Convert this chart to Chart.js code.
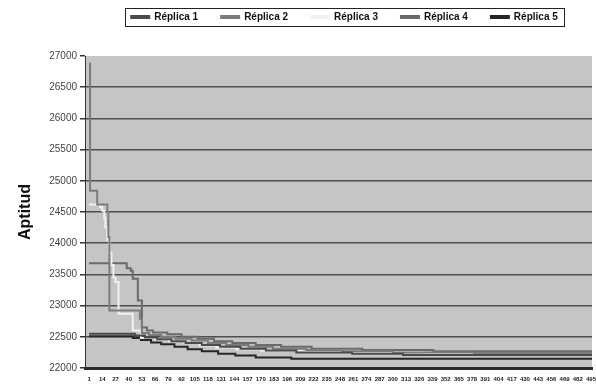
<!DOCTYPE html>
<html>
<head>
<meta charset="utf-8">
<script src="https://cdn.jsdelivr.net/npm/chart.js@4/dist/chart.umd.min.js"></script>
<style>
  html, body { margin: 0; padding: 0; background: #fff; }
  #wrap { width: 596px; height: 385px; position: relative; }
</style>
</head>
<body>
<div id="wrap"><canvas id="chart"></canvas></div>
<script>
// generation where each replica's best fitness changes, and the new value
const rep1Gen = [1, 46, 56, 68, 82, 96, 112, 130, 150, 175, 205, 260, 310]
const rep1Fit = [22550, 22520, 22490, 22460, 22430, 22400, 22370, 22340, 22310, 22280, 22250, 22230, 22210]

const rep2Gen = [1, 2, 9, 19, 20, 21, 51, 53, 60, 72, 86, 102, 118, 136, 158, 182, 215, 250, 300, 380]
const rep2Fit = [26880, 24840, 24620, 24500, 24100, 22920, 22790, 22560, 22530, 22500, 22470, 22440, 22400, 22370, 22340, 22310, 22290, 22270, 22250, 22240]

const rep3Gen = [1, 12, 14, 16, 17, 19, 21, 23, 25, 27, 30, 44, 52, 66, 80, 95, 110, 126, 146, 170, 210, 260, 330]
const rep3Fit = [24620, 24580, 24520, 24400, 24250, 24050, 23850, 23650, 23450, 23380, 22870, 22600, 22480, 22460, 22430, 22400, 22360, 22330, 22300, 22280, 22260, 22250, 22240]

const rep4Gen = [1, 38, 42, 44, 49, 53, 58, 64, 78, 92, 108, 124, 142, 165, 190, 220, 270, 340]
const rep4Fit = [23680, 23600, 23560, 23430, 23080, 22650, 22600, 22570, 22540, 22500, 22470, 22430, 22400, 22370, 22340, 22310, 22290, 22270]

const rep5Gen = [1, 44, 52, 62, 72, 85, 98, 112, 128, 145, 165, 200]
const rep5Fit = [22510, 22480, 22450, 22410, 22380, 22340, 22300, 22270, 22230, 22200, 22170, 22150]

const seriesNames = ['Réplica 1', 'Réplica 2', 'Réplica 3', 'Réplica 4', 'Réplica 5']
const seriesColors = ['#4a4a4a', '#7c7c7c', '#f2f2f2', '#6a6a6a', '#262626']
const lastGen = 496

const xTickLabels = [1, 14, 27, 40, 53, 66, 79, 92, 105, 118, 131, 144, 157, 170, 183, 196, 209, 222, 235, 248, 261, 274, 287, 300, 313, 326, 339, 352, 365, 378, 391, 404, 417, 430, 443, 456, 469, 482, 495]
const yTickLabels = [22000, 22500, 23000, 23500, 24000, 24500, 25000, 25500, 26000, 26500, 27000]

const toPoints = function(gens, fits){
  let pts = []
  for (let i = 0; i < gens.length; i++) {
    pts.push({x: gens[i], y: fits[i]})
  }
  pts.push({x: lastGen, y: fits[fits.length - 1]})
  return pts
}

const allGens = [rep1Gen, rep2Gen, rep3Gen, rep4Gen, rep5Gen]
const allFits = [rep1Fit, rep2Fit, rep3Fit, rep4Fit, rep5Fit]

let datasets = []
for (let i = 0; i < seriesNames.length; i++) {
  datasets.push({
    label: seriesNames[i],
    data: toPoints(allGens[i], allFits[i]),
    borderColor: seriesColors[i],
    backgroundColor: seriesColors[i],
    borderWidth: 2,
    pointRadius: 0,
    stepped: 'before'
  })
}

const plotBackground = {
  id: 'plotBackground',
  beforeDraw(chart) {
    const a = chart.chartArea
    const ctx = chart.ctx
    ctx.save()
    ctx.fillStyle = '#c5c5c5'
    ctx.fillRect(a.left, a.top, a.right - a.left, a.bottom - a.top)
    ctx.restore()
  }
}

// nudge the legend up/right, like the boxed legend of the original
const legendShift = {
  id: 'legendShift',
  afterLayout(chart) {
    const lg = chart.legend
    lg.top -= 24
    lg.bottom -= 24
    lg.left += 6
    lg.right += 6
  }
}

const legendBorder = {
  id: 'legendBorder',
  afterDraw(chart) {
    const boxes = chart.legend.legendHitBoxes
    if (!boxes || !boxes.length) return
    let left = Infinity, right = -Infinity, top = Infinity, bottom = -Infinity
    for (let b of boxes) {
      left = Math.min(left, b.left)
      right = Math.max(right, b.left + b.width)
      top = Math.min(top, b.top)
      bottom = Math.max(bottom, b.top + b.height)
    }
    const ctx = chart.ctx
    ctx.save()
    ctx.strokeStyle = '#222'
    ctx.lineWidth = 1
    ctx.strokeRect(Math.round(left - 6) + 0.5, Math.round(top - 4) + 0.5, Math.round(right - left + 12), Math.round(bottom - top + 8))
    ctx.restore()
  }
}

new Chart(document.getElementById('chart'), {
  type: 'line',
  data: { datasets: datasets },
  plugins: [plotBackground, legendShift, legendBorder],
  options: {
    responsive: true,
    maintainAspectRatio: false,
    animation: false,
    layout: { padding: { top: 13, right: 4, left: 0, bottom: 0 } },
    plugins: {
      legend: {
        position: 'top',
        fullSize: false,
        labels: {
          boxWidth: 18,
          boxHeight: 2,
          padding: 23,
          color: '#111',
          font: { family: 'Liberation Sans, Arial, sans-serif', size: 10, weight: 'bold' }
        }
      },
      tooltip: { enabled: false }
    },
    scales: {
      x: {
        type: 'linear',
        min: -3,
        max: lastGen,
        afterBuildTicks: function(axis) {
          axis.ticks = xTickLabels.map(v => ({ value: v }))
        },
        afterFit: function(axis) { axis.height = 17 },
        grid: { display: false },
        border: { color: '#2a2a2a', width: 3 },
        ticks: {
          autoSkip: false,
          maxRotation: 0,
          padding: 0,
          color: '#222',
          font: { family: 'Liberation Sans, Arial, sans-serif', size: 6, weight: 'bold' },
          callback: v => String(v)
        }
      },
      y: {
        min: 22000,
        max: 27000,
        afterBuildTicks: function(axis) {
          axis.ticks = yTickLabels.map(v => ({ value: v }))
        },
        afterFit: function(axis) { axis.width = 85 },
        grid: {
          color: ctx => (ctx.tick && ctx.tick.value === 27000) ? 'rgba(0,0,0,0)' : '#4f4f4f',
          lineWidth: 1.5,
          tickLength: 5,
          tickColor: '#333'
        },
        border: { color: '#333', width: 1 },
        ticks: {
          padding: 3,
          color: '#444',
          font: { family: 'Liberation Sans, Arial, sans-serif', size: 10 },
          callback: v => String(v)
        },
        title: {
          display: true,
          text: 'Aptitud',
          color: '#111',
          font: { family: 'Liberation Sans, Arial, sans-serif', size: 16, weight: 'bold' },
          padding: { top: 16, bottom: 0 }
        }
      }
    }
  }
})
</script>
</body>
</html>
